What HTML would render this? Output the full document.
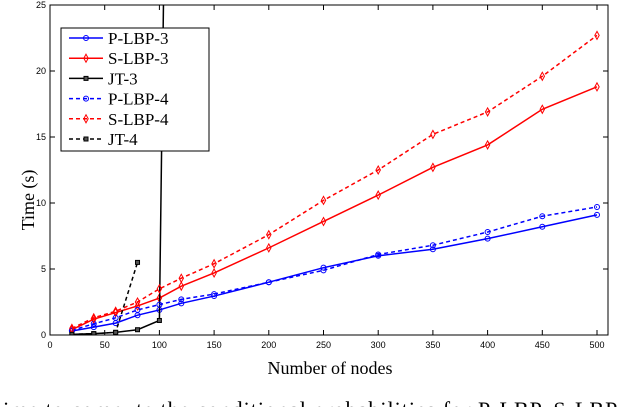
<!DOCTYPE html>
<html><head><meta charset="utf-8"><style>
html,body{margin:0;padding:0;background:#fff;width:640px;height:407px;overflow:hidden}
svg{display:block}
</style></head><body>
<svg id="c" width="640" height="407" xmlns="http://www.w3.org/2000/svg">
<defs><clipPath id="pc"><rect x="50" y="5" width="558" height="330"/></clipPath></defs>
<g id="grid"></g>
<g id="series" clip-path="url(#pc)"></g>
<rect x="50" y="5" width="558" height="330" fill="none" stroke="#000" stroke-width="1"/>
<text transform="translate(34,200) rotate(-90)" text-anchor="middle" font-family="Liberation Serif, serif" font-size="18">Time (s)</text>
<text x="330" y="374" text-anchor="middle" font-family="Liberation Serif, serif" font-size="18">Number of nodes</text>
<text x="-4" y="417" font-family="Liberation Serif, serif" font-size="22" letter-spacing="1">time to compute the conditional probabilities for P-LBP, S-LBP</text>
<g id="legend"></g>
</svg>
<script>
const xs=[20,40,60,80,100,120,150,200,250,300,350,400,450,500];
const pLbp3=[0.3,0.6,0.9,1.5,1.9,2.4,2.95,4.0,5.1,6.0,6.5,7.3,8.2,9.1];
const sLbp3=[0.4,1.2,1.7,2.2,2.8,3.7,4.7,6.6,8.6,10.6,12.7,14.4,17.1,18.8];
const jt3X=[20,40,60,80,100,120];
const jt3=[0.05,0.1,0.2,0.4,1.1,130];
const pLbp4=[0.35,0.85,1.3,1.9,2.3,2.7,3.1,4.0,4.9,6.1,6.8,7.8,9.0,9.7];
const sLbp4=[0.5,1.3,1.8,2.5,3.5,4.3,5.4,7.6,10.2,12.5,15.2,16.9,19.6,22.7];
const jt4X=[20,40,60,80];
const jt4=[0.05,0.1,0.2,5.5];
const xTicks=[0,50,100,150,200,250,300,350,400,450,500];
const yTicks=[0,5,10,15,20,25];
const legendLabels=["P-LBP-3","S-LBP-3","JT-3","P-LBP-4","S-LBP-4","JT-4"];
const NS="http://www.w3.org/2000/svg";
const X=v=>50+v*1.094, Y=v=>335-v*13.2;
function mk(t,a,p){const e=document.createElementNS(NS,t);for(const k in a)e.setAttribute(k,a[k]);p.appendChild(e);return e;}
const g=document.getElementById('grid');
xTicks.forEach(t=>{const x=X(t);
 let l=mk('line',{x1:x,x2:x,y1:335,y2:330,stroke:'#000'},g);
 
 mk('line',{x1:x,x2:x,y1:5,y2:10,stroke:'#000'},g);
 let tx=mk('text',{x:x,y:348,'text-anchor':'middle','font-family':'Liberation Sans, sans-serif','font-size':9},g);tx.textContent=t;
 });
yTicks.forEach(t=>{const y=Y(t);
 let l=mk('line',{x1:50,x2:55,y1:y,y2:y,stroke:'#000'},g);
 
 mk('line',{x1:608,x2:603,y1:y,y2:y,stroke:'#000'},g);
 let tx=mk('text',{x:46,y:y+3,'text-anchor':'end','font-family':'Liberation Sans, sans-serif','font-size':9},g);tx.textContent=t;
 });
const S=document.getElementById('series');
function marker(type,x,y,col,p){
 if(type==='o')return mk('circle',{cx:x,cy:y,r:2.5,fill:'none',stroke:col,'stroke-width':1},p);
 if(type==='d')return mk('path',{d:`M${x},${y-4}L${x+2.2},${y}L${x},${y+4}L${x-2.2},${y}Z`,fill:'none',stroke:col,'stroke-width':1},p);
 return mk('rect',{x:x-2,y:y-2,width:4,height:4,fill:'#555',stroke:col,'stroke-width':1},p);}
const defs=[
 [xs,pLbp3,'#0000ff','','o','p-lbp-3-line'],
 [xs,sLbp3,'#ff0000','','d','s-lbp-3-line'],
 [jt3X,jt3,'#000','','s','jt-3-line'],
 [xs,pLbp4,'#0000ff','4,3','o','p-lbp-4-line'],
 [xs,sLbp4,'#ff0000','4,3','d','s-lbp-4-line'],
 [jt4X,jt4,'#000','4,3','s','jt-4-line']];
defs.forEach(([xa,ya,col,dash,m,name])=>{
 const grp=mk('g',{},S);
 
 
 const pts=xa.map((x,i)=>X(x)+','+Y(ya[i])).join(' ');
 mk('polyline',{points:pts,fill:'none',stroke:col,'stroke-width':1.5,'stroke-dasharray':dash},grp);
 xa.forEach((x,i)=>{const mm=marker(m,X(x),Y(ya[i]),col,grp);
  });
});
const L=document.getElementById('legend');
const box=mk('rect',{x:61,y:28,width:148,height:123,fill:'#fff',stroke:'#000'},L);

legendLabels.forEach((lab,i)=>{const y=38+i*20.2;const d=defs[i];
 const e=mk('g',{},L);
 
 
 mk('line',{x1:69,x2:103,y1:y,y2:y,stroke:d[2],'stroke-width':1.5,'stroke-dasharray':d[3]},e);
 marker(d[4],86,y,d[2],e);
 const t=mk('text',{x:108,y:y+6,'font-family':'Liberation Serif, serif','font-size':17},e);t.textContent=lab;});
</script>
</body></html>
